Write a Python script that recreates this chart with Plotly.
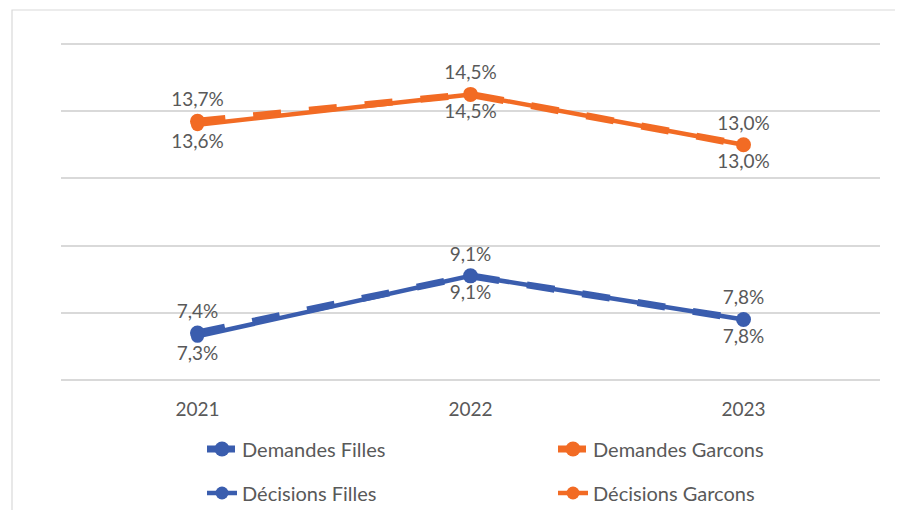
import plotly.graph_objects as go

years = ["2021", "2022", "2023"]
demandes_filles = [7.4, 9.1, 7.8]
decisions_filles = [7.3, 9.1, 7.8]
demandes_garcons = [13.7, 14.5, 13.0]
decisions_garcons = [13.6, 14.5, 13.0]

BLUE = "#3A5DAE"
ORANGE = "#F26B24"
GREY = "#595959"
FONT = "Lato"

fig = go.Figure()

def add(name, y, color, dash, width, msize, pos, legend):
    fig.add_trace(go.Scatter(
        x=years, y=y, name=name, mode="lines+markers+text",
        line=dict(color=color, width=width, dash=dash),
        marker=dict(color=color, size=msize),
        texttemplate="%{y:.1f}%", textposition=pos,
        textfont=dict(family=FONT, size=19, color=GREY),
        legend=legend, cliponaxis=False,
    ))

add("Demandes Filles", demandes_filles, BLUE, "28px,28px", 7, 15, "top center", "legend")
add("Demandes Garcons", demandes_garcons, ORANGE, "28px,28px", 7, 15, "top center", "legend2")
add("Décisions Filles", decisions_filles, BLUE, "solid", 4.5, 13, "bottom center", "legend3")
add("Décisions Garcons", decisions_garcons, ORANGE, "solid", 4.5, 13, "bottom center", "legend4")

# page body has an 8px margin: figure is offset by 8px in the window
OFF = 8
W, H = 903 - OFF, 510 - OFF
x0 = 61 - OFF; x1 = 880 - OFF; y0 = 44 - OFF - 2; y1 = 380 - OFF + 2
pw = x1 - x0; ph = y1 - y0

def leg(xpx, ypx):
    xpx -= OFF; ypx -= OFF
    return dict(xref="container", yref="container", x=xpx / W, y=1 - ypx / H,
                xanchor="left", yanchor="middle", orientation="h",
                font=dict(family=FONT, size=20, color=GREY),
                bgcolor="rgba(0,0,0,0)", borderwidth=0)

fig.update_layout(
    width=W, height=H,
    margin=dict(l=x0, r=W - x1, t=y0, b=H - y1, autoexpand=False),
    paper_bgcolor="white", plot_bgcolor="white",
    separators=", ",
    font=dict(family=FONT, size=19, color=GREY),
    showlegend=True,
    legend=leg(202, 449),
    legend2=leg(553, 449),
    legend3=leg(202, 493),
    legend4=leg(553, 493),
    xaxis=dict(range=[-0.5, 2.5], showgrid=False, zeroline=False,
               showline=False, ticks="", tickfont=dict(family=FONT, size=19, color=GREY),
               ticklabelstandoff=14),
    yaxis=dict(range=[5.94, 16.06], tickvals=[6, 8, 10, 12, 14, 16], showgrid=True,
               gridcolor="#D9D9D9", gridwidth=1.5, zeroline=False,
               showticklabels=False, showline=False),
    shapes=[dict(type="rect", xref="paper", yref="paper",
                 x0=(12 - OFF - x0) / pw, x1=(930 - x0) / pw,
                 y0=(y1 - 540) / ph, y1=(y1 - (10 - OFF)) / ph,
                 line=dict(color="#D9D9D9", width=1.2), fillcolor="rgba(0,0,0,0)",
                 layer="below")],
)

fig.write_html("out.html")
